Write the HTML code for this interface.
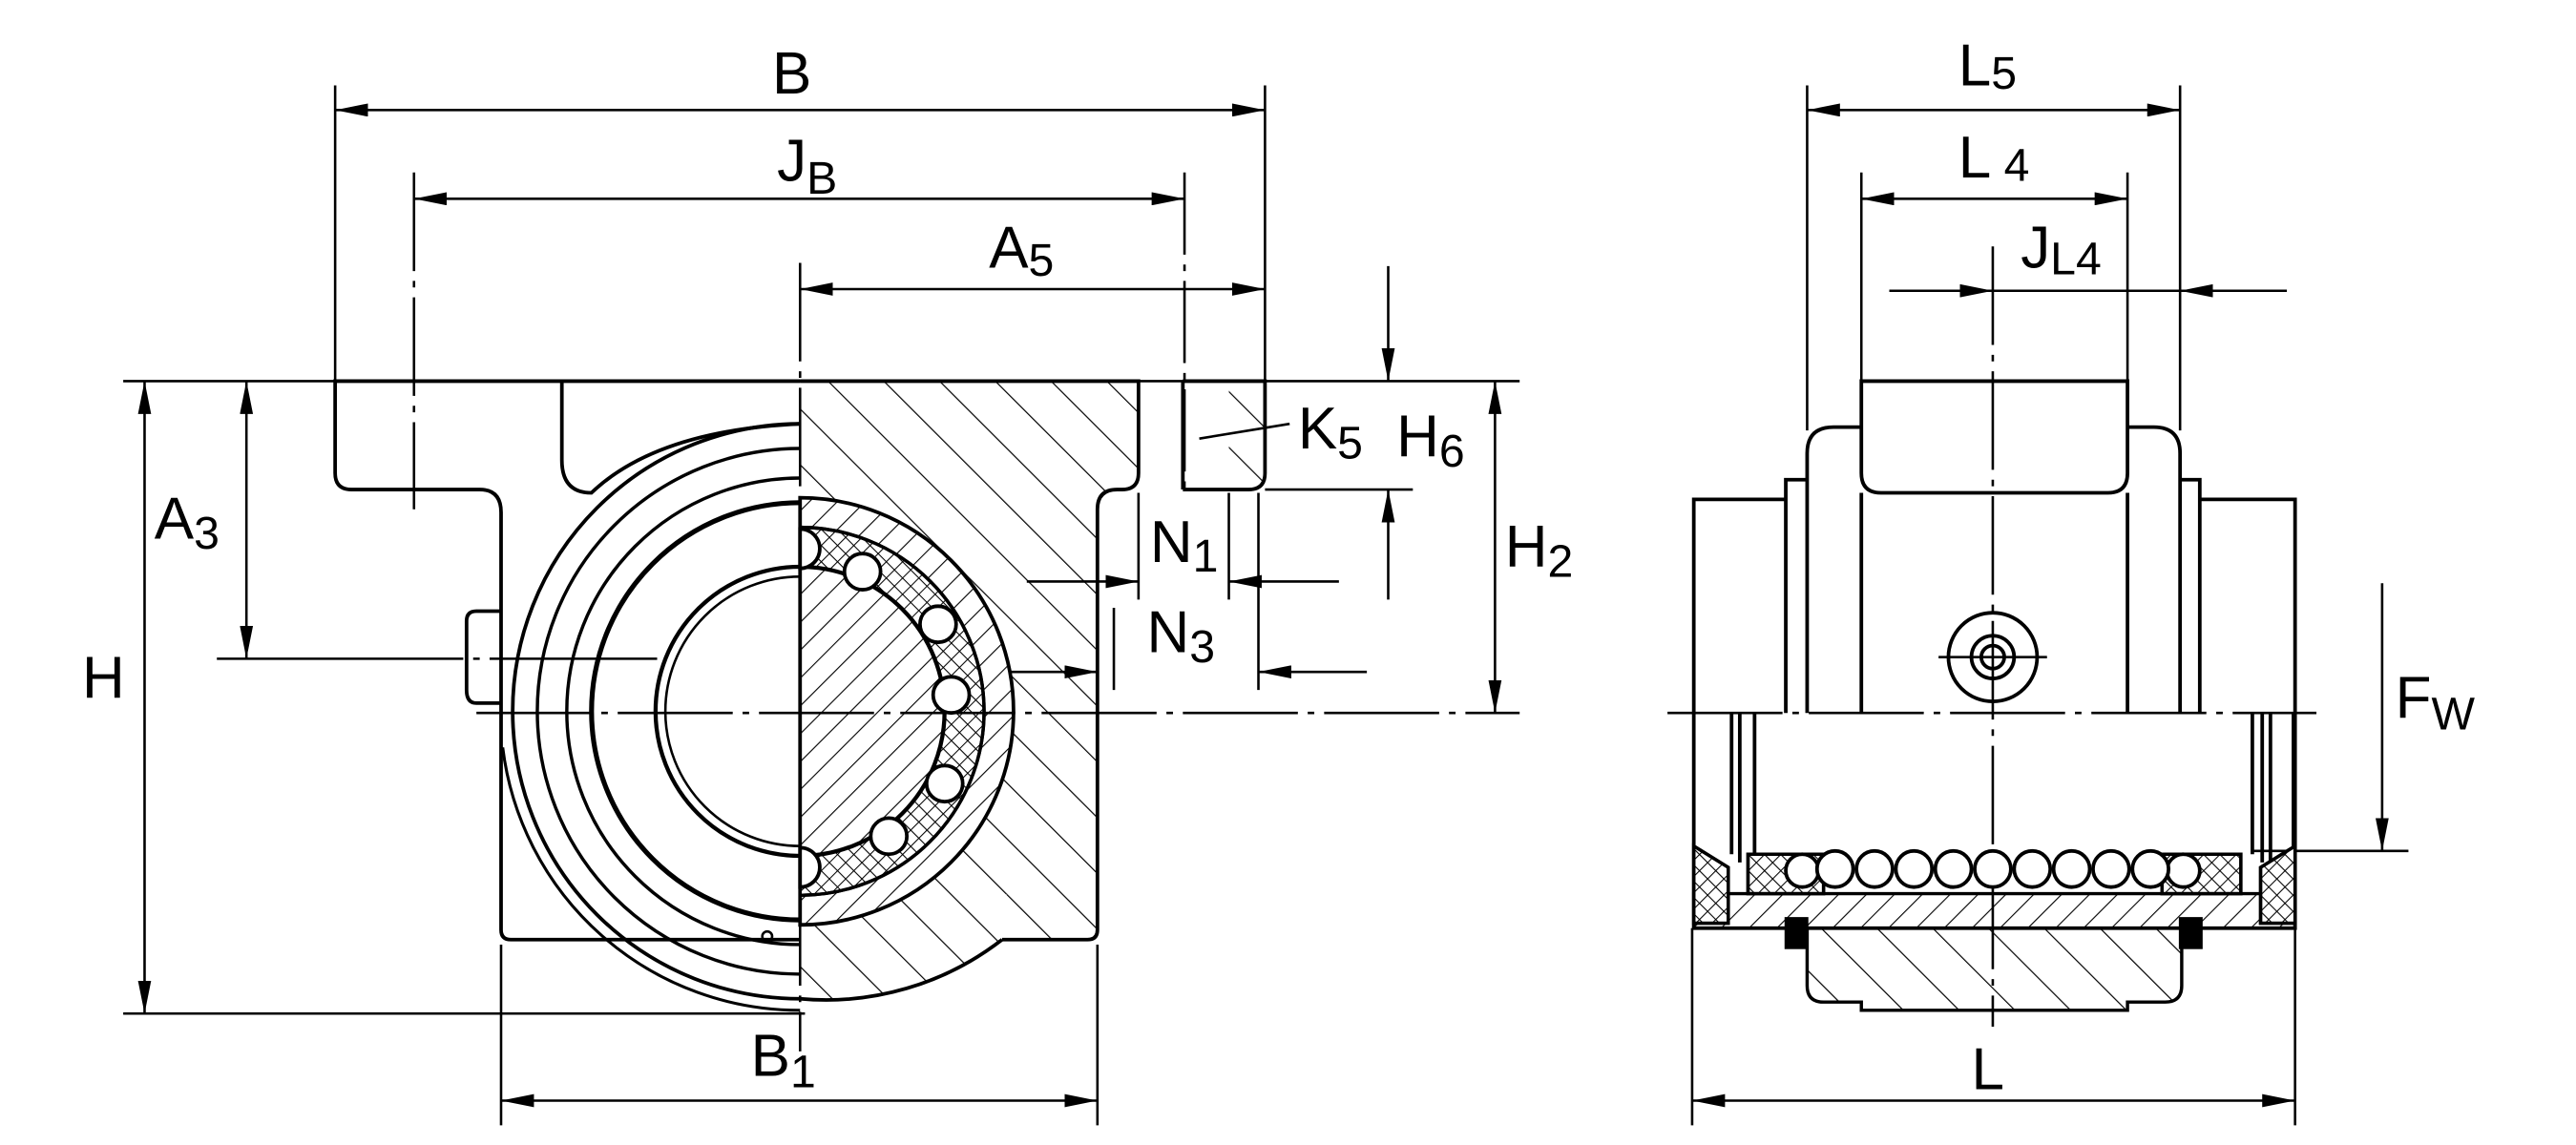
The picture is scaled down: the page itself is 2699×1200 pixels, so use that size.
<!DOCTYPE html>
<html><head><meta charset="utf-8"><style>
html,body{margin:0;padding:0;background:#fff;}
svg{display:block;}
text{font-family:"Liberation Sans",sans-serif;fill:#000;}
</style></head><body>
<svg width="2699" height="1200" viewBox="0 0 1568 697" preserveAspectRatio="none" xmlns="http://www.w3.org/2000/svg">
<defs>
<pattern id="h1" patternUnits="userSpaceOnUse" width="24" height="24" patternTransform="rotate(-45)">
<line x1="0" y1="0" x2="0" y2="24" stroke="#000" stroke-width="1.4"/></pattern>
<pattern id="h2" patternUnits="userSpaceOnUse" width="12" height="12" patternTransform="rotate(45)">
<line x1="0" y1="0" x2="0" y2="12" stroke="#000" stroke-width="1.3"/></pattern>
<pattern id="xh" patternUnits="userSpaceOnUse" width="7" height="7" patternTransform="rotate(45)">
<path d="M0 0V7M0 0H7" stroke="#000" stroke-width="1.2"/></pattern>
<marker id="a" viewBox="0 0 20 8" refX="20" refY="4" markerWidth="20" markerHeight="8" markerUnits="userSpaceOnUse" orient="auto-start-reverse"><path d="M0 0L20 4L0 8z" fill="#000"/></marker>
</defs>
<g fill="none" stroke="#000" stroke-width="1.5">
<path d="M487 232H693V288Q693 298 683 298H680Q668 298 668 310V572H610A175 175 0 0 1 487 608Z" fill="url(#h1)" stroke="none"/>
<path d="M748 232H770V288Q770 298 760 298H748Z" fill="url(#h1)" stroke="none"/>
<line x1="75" y1="232" x2="925" y2="232"/>
<line x1="75" y1="617" x2="490" y2="617"/>
<line x1="204" y1="52" x2="204" y2="232"/>
<line x1="770" y1="52" x2="770" y2="232"/>
<line x1="252" y1="105" x2="252" y2="310" stroke-dasharray="60 6 4 6"/>
<line x1="721" y1="105" x2="721" y2="300" stroke-dasharray="50 6 4 6"/>
<line x1="305" y1="575" x2="305" y2="685"/>
<line x1="668" y1="575" x2="668" y2="685"/>
<line x1="770" y1="298" x2="860" y2="298"/>
<line x1="204" y1="67" x2="770" y2="67" marker-start="url(#a)" marker-end="url(#a)"/>
<line x1="252" y1="121" x2="721" y2="121" marker-start="url(#a)" marker-end="url(#a)"/>
<line x1="487" y1="176" x2="770" y2="176" marker-start="url(#a)" marker-end="url(#a)"/>
<line x1="88" y1="232" x2="88" y2="617" marker-start="url(#a)" marker-end="url(#a)"/>
<line x1="150" y1="232" x2="150" y2="401" marker-start="url(#a)" marker-end="url(#a)"/>
<line x1="910" y1="232" x2="910" y2="434" marker-start="url(#a)" marker-end="url(#a)"/>
<line x1="845" y1="162" x2="845" y2="232" marker-end="url(#a)"/>
<line x1="845" y1="365" x2="845" y2="298" marker-end="url(#a)"/>
<line x1="305" y1="670" x2="668" y2="670" marker-start="url(#a)" marker-end="url(#a)"/>
<line x1="625" y1="354" x2="693" y2="354" marker-end="url(#a)"/>
<line x1="815" y1="354" x2="748" y2="354" marker-end="url(#a)"/>
<line x1="610" y1="409" x2="668" y2="409" marker-end="url(#a)"/>
<line x1="832" y1="409" x2="766" y2="409" marker-end="url(#a)"/>
<line x1="693" y1="300" x2="693" y2="365"/><line x1="748" y1="300" x2="748" y2="365"/>
<line x1="678" y1="370" x2="678" y2="420"/><line x1="766" y1="300" x2="766" y2="420"/>
<line x1="730" y1="267" x2="785" y2="258"/>
<g stroke-width="2.2">
<path d="M487 232H204V288Q204 298 214 298H292Q305 298 305 312V566Q305 572 311 572H487"/>
<path d="M342 232V280Q342 300 360 300Q400 262 487 258"/>
<path d="M305 372H290Q284 372 284 378V420Q284 428 290 428H305"/>
<path d="M487 232H693V288Q693 298 683 298H680Q668 298 668 310V566Q668 572 662 572H610"/>
<path d="M720 232H770V288Q770 298 760 298H720"/>
<line x1="720" y1="232" x2="720" y2="298"/>
</g>
<path d="M487 608A175 175 0 0 1 487 258" stroke-width="2.2"/>
<path d="M610 572A175 175 0 0 1 487 608" stroke-width="2.2"/>
<path d="M487 615A182 182 0 0 1 306 455" stroke-width="1.8"/>
<path d="M487 593A160 160 0 0 1 487 273" stroke-width="2"/>
<path d="M487 575A142 142 0 0 1 487 291" stroke-width="2"/>
<path d="M487 560A127 127 0 0 1 487 306" stroke-width="3"/>
<path d="M487 521A88 88 0 0 1 487 345" stroke-width="2.5"/>
<path d="M487 515A82 82 0 0 1 487 351" stroke-width="1.5"/>
<circle cx="467" cy="570" r="3" stroke-width="1.5"/>
<path d="M487 303A130 130 0 0 1 487 563Z" fill="#fff" stroke="none"/>
<path d="M487 303A130 130 0 0 1 487 563Z" fill="url(#h2)" stroke-width="2.2"/>
<path d="M487 321A112 112 0 0 1 487 545V521A88 88 0 0 0 487 345Z" fill="#fff" stroke-width="2"/>
<path d="M487 321A112 112 0 0 1 487 545V521A88 88 0 0 0 487 345Z" fill="url(#xh)" stroke-width="2"/>
<path d="M487 345A88 88 0 0 1 487 521" stroke-width="2.5"/>
<g fill="#fff" stroke-width="2.2">
<circle cx="525" cy="348" r="11"/><circle cx="571" cy="380" r="11"/><circle cx="579" cy="423" r="11"/>
<circle cx="575" cy="477" r="11"/><circle cx="541" cy="509" r="11"/>
<path d="M487 322A12 12 0 0 1 487 346Z"/><path d="M487 516A12 12 0 0 1 487 540Z"/>
</g>
<line x1="487" y1="160" x2="487" y2="640" stroke-dasharray="60 6 4 6"/>
<line x1="290" y1="434" x2="925" y2="434" stroke-dasharray="70 6 4 6"/>
<line x1="132" y1="401" x2="400" y2="401" stroke-dasharray="150 6 4 6"/>
<line x1="1100" y1="52" x2="1100" y2="262"/><line x1="1327" y1="52" x2="1327" y2="262"/>
<line x1="1133" y1="105" x2="1133" y2="232"/><line x1="1295" y1="105" x2="1295" y2="232"/>
<line x1="1030" y1="565" x2="1030" y2="685"/><line x1="1397" y1="565" x2="1397" y2="685"/>
<line x1="1100" y1="67" x2="1327" y2="67" marker-start="url(#a)" marker-end="url(#a)"/>
<line x1="1133" y1="121" x2="1295" y2="121" marker-start="url(#a)" marker-end="url(#a)"/>
<line x1="1150" y1="177" x2="1213" y2="177" marker-end="url(#a)"/>
<line x1="1392" y1="177" x2="1327" y2="177" marker-end="url(#a)"/>
<line x1="1213" y1="177" x2="1327" y2="177"/>
<line x1="1030" y1="670" x2="1397" y2="670" marker-start="url(#a)" marker-end="url(#a)"/>
<line x1="1450" y1="355" x2="1450" y2="518" marker-end="url(#a)"/>
<line x1="1370" y1="518" x2="1466" y2="518"/>
<path d="M1031 544H1397V565H1031Z" fill="url(#h2)" stroke-width="2"/>
<path d="M1100 565H1328V600Q1328 610 1318 610H1295V615H1133V610H1110Q1100 610 1100 600Z" fill="url(#h1)" stroke-width="2"/>
<line x1="1213" y1="150" x2="1213" y2="625" stroke-dasharray="60 6 4 6"/>
<line x1="1015" y1="434" x2="1410" y2="434" stroke-dasharray="70 6 4 6"/>
<g stroke-width="2.2">
<path d="M1133 232H1295V288Q1295 300 1283 300H1145Q1133 300 1133 288Z"/>
<line x1="1133" y1="300" x2="1133" y2="434"/><line x1="1295" y1="300" x2="1295" y2="434"/>
<path d="M1100 434V276Q1100 260 1116 260H1133"/><path d="M1327 434V276Q1327 260 1311 260H1295"/>
<path d="M1100 292H1087V434"/><path d="M1327 292H1339V434"/>
<path d="M1087 304H1031V565H1397V304H1339"/>
<circle cx="1213" cy="400" r="27"/><circle cx="1213" cy="400" r="13"/><circle cx="1213" cy="400" r="7"/>
<line x1="1054" y1="434" x2="1054" y2="520"/><line x1="1059" y1="434" x2="1059" y2="525"/>
<line x1="1068" y1="434" x2="1068" y2="520"/>
<line x1="1371" y1="434" x2="1371" y2="520"/><line x1="1377" y1="434" x2="1377" y2="525"/>
<line x1="1382" y1="434" x2="1382" y2="525"/><line x1="1396" y1="434" x2="1396" y2="520"/>
</g>
<line x1="1180" y1="400" x2="1246" y2="400"/>
<path d="M1031 515L1052 528V562H1031Z" fill="#fff" stroke-width="2"/>
<path d="M1031 515L1052 528V562H1031Z" fill="url(#xh)" stroke-width="2"/>
<path d="M1397 515L1376 528V562H1397Z" fill="#fff" stroke-width="2"/>
<path d="M1397 515L1376 528V562H1397Z" fill="url(#xh)" stroke-width="2"/>
<path d="M1064 520H1110V544H1064Z" fill="#fff" stroke-width="2"/>
<path d="M1064 520H1110V544H1064Z" fill="url(#xh)" stroke-width="2"/>
<path d="M1316 520H1364V544H1316Z" fill="#fff" stroke-width="2"/>
<path d="M1316 520H1364V544H1316Z" fill="url(#xh)" stroke-width="2"/>
<rect x="1087" y="559" width="13" height="18" fill="#000"/>
<rect x="1327" y="559" width="13" height="18" fill="#000"/>
<g fill="#fff" stroke-width="2.2">
<circle cx="1097" cy="530" r="10"/><circle cx="1329" cy="530" r="10"/>
<circle cx="1117" cy="529" r="11"/><circle cx="1141" cy="529" r="11"/><circle cx="1165" cy="529" r="11"/>
<circle cx="1189" cy="529" r="11"/><circle cx="1213" cy="529" r="11"/><circle cx="1237" cy="529" r="11"/>
<circle cx="1261" cy="529" r="11"/><circle cx="1285" cy="529" r="11"/><circle cx="1309" cy="529" r="11"/>
</g>
</g>
<g font-size="36">
<text x="470" y="57">B</text>
<text x="473" y="110">J<tspan font-size="28" dy="8">B</tspan></text>
<text x="602" y="163">A<tspan font-size="28" dy="5">5</tspan></text>
<text x="790" y="273">K<tspan font-size="28" dy="6">5</tspan></text>
<text x="850" y="278">H<tspan font-size="28" dy="6">6</tspan></text>
<text x="700" y="342">N<tspan font-size="28" dy="6">1</tspan></text>
<text x="698" y="397">N<tspan font-size="28" dy="6">3</tspan></text>
<text x="916" y="345">H<tspan font-size="28" dy="6">2</tspan></text>
<text x="94" y="328">A<tspan font-size="28" dy="6">3</tspan></text>
<text x="50" y="425">H</text>
<text x="457" y="655">B<tspan font-size="28" dy="7">1</tspan></text>
<text x="1192" y="52">L<tspan font-size="28" dy="2">5</tspan></text>
<text x="1192" y="108">L<tspan font-size="28" dy="2"> 4</tspan></text>
<text x="1230" y="163">J<tspan font-size="28" dy="4">L4</tspan></text>
<text x="1458" y="437">F<tspan font-size="28" dy="7">W</tspan></text>
<text x="1200" y="663">L</text>
</g>
</svg>
</body></html>
